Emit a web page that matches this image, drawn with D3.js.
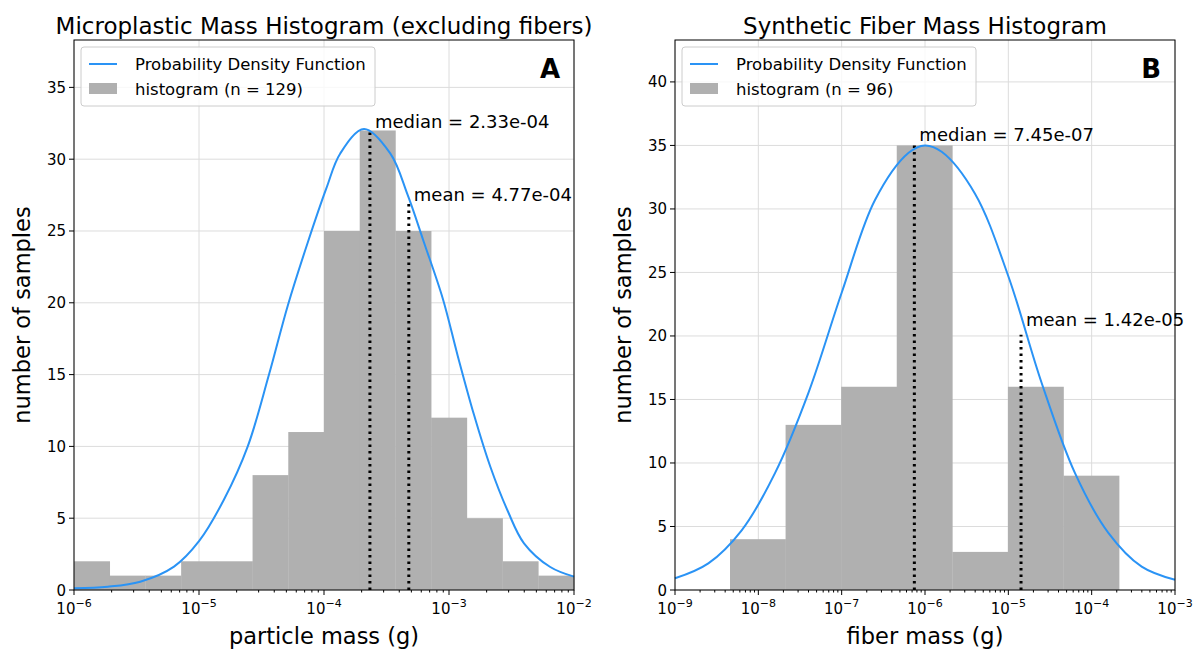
<!DOCTYPE html>
<html><head><meta charset="utf-8">
<script src="https://cdn.jsdelivr.net/npm/d3@7"></script>
<style>body{margin:0;background:#fff;font-family:"DejaVu Sans",sans-serif}</style>
</head><body><svg id="c" width="1195" height="654"></svg>
<script>
// panel A: particle mass (log10 g)
var binStartA = -6, binWidthA = 4 / 14;
var countsA = [2, 1, 1, 2, 2, 8, 11, 25, 32, 25, 12, 5, 2, 1];
var pdfA = [[-6, 0.12], [-5.73, 0.23], [-5.47, 0.58], [-5.2, 1.63], [-5, 3.4], [-4.8, 6.3], [-4.61, 10],
  [-4.44, 15], [-4.29, 19.8], [-4.13, 24.2], [-3.98, 28], [-3.87, 30.4], [-3.68, 32.1], [-3.47, 30.4],
  [-3.33, 27.5], [-3.2, 24.2], [-3.05, 20.3], [-2.93, 16.3], [-2.8, 12.2], [-2.67, 8.6], [-2.53, 5.5],
  [-2.4, 3.25], [-2.19, 1.6], [-2, 0.93]];
var medianA = 2.33e-4, meanA = 4.77e-4, medTopA = 32, meanTopA = 26.9;

// panel B: fiber mass
var binStartB = -8.34, binWidthB = 0.667;
var countsB = [4, 13, 16, 35, 3, 16, 9];
var pdfB = [[-9, 0.92], [-8.6, 2.1], [-8.2, 4.7], [-7.8, 9.2], [-7.4, 15.5], [-7, 23.4], [-6.6, 30.7],
  [-6.2, 34.4], [-6, 35], [-5.8, 34.5], [-5.4, 31.2], [-5, 24.7], [-4.6, 16.3], [-4.2, 9.2],
  [-3.8, 4.5], [-3.4, 1.84], [-3, 0.8]];
var medianB = 7.45e-7, meanB = 1.42e-5, medTopB = 35, meanTopB = 20.1;

var svg = d3.select("#c");

function panel(o) {
  var g = svg.append("g");
  var x = d3.scaleLog().domain(o.xdom).range([o.left, o.left + 500]);
  var y = d3.scaleLinear().domain([0, o.ymax]).range([590, 40]);

  // grid
  var decades = d3.range(Math.log10(o.xdom[0]), Math.log10(o.xdom[1]) + 1).map(function (e) { return Math.pow(10, e); });
  g.selectAll(".gx").data(decades).enter().append("line")
    .attr("x1", d => x(d)).attr("x2", d => x(d)).attr("y1", 40).attr("y2", 590)
    .attr("stroke", "#dcdcdc");
  g.selectAll(".gy").data(d3.range(0, o.ymax, 5)).enter().append("line")
    .attr("x1", o.left).attr("x2", o.left + 500).attr("y1", d => y(d)).attr("y2", d => y(d))
    .attr("stroke", "#dcdcdc");

  // bars
  g.selectAll(".bar").data(o.counts).enter().append("rect")
    .attr("x", (d, i) => x(Math.pow(10, o.binStart + i * o.binWidth)))
    .attr("width", (d, i) => x(Math.pow(10, o.binStart + (i + 1) * o.binWidth)) - x(Math.pow(10, o.binStart + i * o.binWidth)) + 0.3)
    .attr("y", d => y(d)).attr("height", d => 590 - y(d))
    .attr("fill", "#b0b0b0");

  // stat lines
  [[o.median, o.medTop], [o.mean, o.meanTop]].forEach(function (m) {
    g.append("line").attr("x1", x(m[0])).attr("x2", x(m[0])).attr("y1", 590).attr("y2", y(m[1]))
      .attr("stroke", "#000").attr("stroke-width", 3).attr("stroke-dasharray", "2.5,4");
  });

  // pdf
  var line = d3.line().curve(d3.curveCatmullRom).x(d => x(Math.pow(10, d[0]))).y(d => y(d[1]));
  g.append("path").datum(o.pdf).attr("d", line).attr("fill", "none")
    .attr("stroke", "#2a93f5").attr("stroke-width", 2);

  // labels
  g.append("text").attr("x", x(o.median) + 5).attr("y", o.medLabelY).attr("font-size", 18)
    .text("median = " + o.median.toExponential(2).replace(/e([+-])(\d)$/, "e$10$2"));
  g.append("text").attr("x", x(o.mean) + 5).attr("y", o.meanLabelY).attr("font-size", 18)
    .text("mean = " + o.mean.toExponential(2).replace(/e([+-])(\d)$/, "e$10$2"));

  // frame
  g.append("rect").attr("x", o.left).attr("y", 40).attr("width", 500).attr("height", 550)
    .attr("fill", "none").attr("stroke", "#000").attr("stroke-width", 1);

  // x ticks
  var minors = [];
  decades.slice(0, -1).forEach(function (d) { for (var k = 2; k < 10; k++) minors.push(d * k); });
  g.selectAll(".mt").data(minors).enter().append("line")
    .attr("x1", d => x(d)).attr("x2", d => x(d)).attr("y1", 590).attr("y2", 592.5).attr("stroke", "#000");
  g.selectAll(".Mt").data(decades).enter().append("line")
    .attr("x1", d => x(d)).attr("x2", d => x(d)).attr("y1", 590).attr("y2", 595).attr("stroke", "#000");
  var tl = g.selectAll(".tl").data(decades).enter().append("text")
    .attr("x", d => x(d)).attr("y", 614).attr("text-anchor", "middle").attr("font-size", 15);
  tl.append("tspan").text("10");
  tl.append("tspan").attr("dy", -7).attr("font-size", 11).text(d => "\u2212" + Math.round(-Math.log10(d)));

  // y ticks
  var yt = d3.range(0, o.ymax, 5);
  g.selectAll(".yt").data(yt).enter().append("line")
    .attr("x1", o.left - 5).attr("x2", o.left).attr("y1", d => y(d)).attr("y2", d => y(d)).attr("stroke", "#000");
  g.selectAll(".yl").data(yt).enter().append("text")
    .attr("x", o.left - 8).attr("y", d => y(d) + 5.5).attr("text-anchor", "end").attr("font-size", 15).text(d => d);

  // titles
  g.append("text").attr("x", o.left + 250).attr("y", 34).attr("text-anchor", "middle").attr("font-size", 23).text(o.title);
  g.append("text").attr("x", o.left + 250).attr("y", 644).attr("text-anchor", "middle").attr("font-size", 22.5).text(o.xlabel);
  g.append("text").attr("transform", "translate(" + (o.left - 44) + ",315) rotate(-90)")
    .attr("text-anchor", "middle").attr("font-size", 22.5).text("number of samples");
  g.append("text").attr("x", o.left + 486).attr("y", 78).attr("text-anchor", "end")
    .attr("font-size", 26).attr("font-weight", "bold").text(o.letter);

  // legend
  var lg = g.append("g").attr("transform", "translate(" + (o.left + 7) + ",47)");
  lg.append("rect").attr("width", 294).attr("height", 59).attr("rx", 3)
    .attr("fill", "#fff").attr("fill-opacity", 0.8).attr("stroke", "#ccc");
  lg.append("line").attr("x1", 8).attr("x2", 36).attr("y1", 17).attr("y2", 17).attr("stroke", "#2a93f5").attr("stroke-width", 2);
  lg.append("text").attr("x", 54).attr("y", 23).attr("font-size", 16.5).text("Probability Density Function");
  lg.append("rect").attr("x", 8).attr("y", 36).attr("width", 28).attr("height", 11).attr("fill", "#b0b0b0");
  lg.append("text").attr("x", 54).attr("y", 48).attr("font-size", 16.5).text(o.legend);
}

panel({left: 74, xdom: [1e-6, 1e-2], ymax: 38.3, counts: countsA, binStart: binStartA, binWidth: binWidthA,
  pdf: pdfA, median: medianA, mean: meanA, medTop: medTopA, meanTop: meanTopA, medLabelY: 128, meanLabelY: 201,
  title: "Microplastic Mass Histogram (excluding fibers)", xlabel: "particle mass (g)", letter: "A",
  legend: "histogram (n = " + d3.sum(countsA) + ")"});
panel({left: 675, xdom: [1e-9, 1e-3], ymax: 43.3, counts: countsB, binStart: binStartB, binWidth: binWidthB,
  pdf: pdfB, median: medianB, mean: meanB, medTop: medTopB, meanTop: meanTopB, medLabelY: 141, meanLabelY: 326,
  title: "Synthetic Fiber Mass Histogram", xlabel: "fiber mass (g)", letter: "B",
  legend: "histogram (n = " + d3.sum(countsB) + ")"});
</script></body></html>
